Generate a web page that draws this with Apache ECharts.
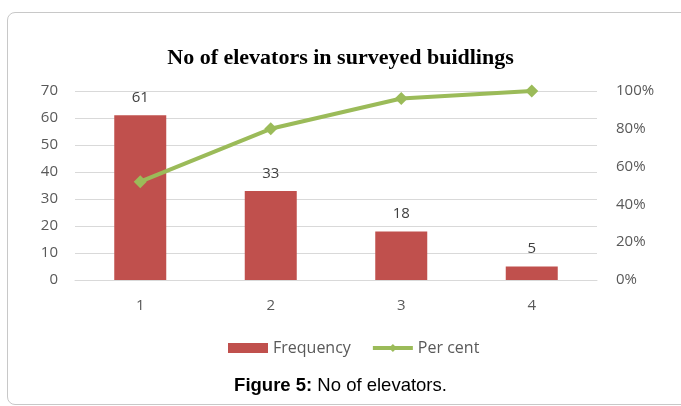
<!DOCTYPE html>
<html>
<head>
<meta charset="utf-8">
<script src="https://cdn.jsdelivr.net/npm/echarts@6/dist/echarts.min.js"></script>
<style>
  html, body { margin: 0; padding: 0; background: #fff; }
  #frame { position: absolute; left: 7px; top: 12px; width: 700px; height: 393px;
           border: 1px solid #c8c8c8; border-radius: 8px; box-sizing: border-box; }
  #id1 { position: absolute; left: 0; top: 0; width: 681px; height: 406px; }
</style>
</head>
<body>
<div id="frame"></div>
<div id="id1"></div>
<script>
var categories = ['1', '2', '3', '4'];
var frequency = [61, 33, 18, 5];
var perCent = [52, 80, 96, 100];

var charts = echarts.init(document.getElementById('id1'));
var option = {
    title: [{
        text: 'No of elevators in surveyed buidlings',
        left: 'center', top: 42,
        textStyle: { fontFamily: 'Liberation Serif', fontSize: 22, fontWeight: 'bold', color: '#000' }
    }, {
        text: '{b|Figure 5:} No of elevators.',
        left: 'center', top: 371,
        textStyle: {
            fontFamily: 'Liberation Sans', fontSize: 18.5, fontWeight: 'normal', color: '#000',
            rich: { b: { fontFamily: 'Liberation Sans', fontSize: 18.5, fontWeight: 'bold', color: '#000' } }
        }
    }],
    legend: {
        top: 335, left: 223,
        itemGap: 20,
        itemWidth: 40, itemHeight: 10,
        textStyle: { fontFamily: 'Open Sans', fontSize: 16, color: '#595959' },
        data: [
            { name: 'Frequency', icon: 'rect', itemStyle: { color: '#C0504D' } },
            { name: 'Per cent', lineStyle: { width: 4, color: '#9BBB59' }, itemStyle: { color: '#9BBB59' } }
        ]
    },
    grid: { left: 75, right: 84, top: 91, bottom: 126 },
    xAxis: {
        type: 'category',
        data: categories,
        axisLine: { lineStyle: { color: '#d9d9d9' } },
        axisTick: { show: false },
        axisLabel: { fontFamily: 'Open Sans', fontSize: 15, color: '#595959', margin: 18 }
    },
    yAxis: [{
        type: 'value', min: 0, max: 70, interval: 10,
        axisLine: { show: false }, axisTick: { show: false },
        splitLine: { lineStyle: { color: '#d9d9d9' } },
        axisLabel: { fontFamily: 'Open Sans', fontSize: 15, color: '#595959', margin: 17 }
    }, {
        type: 'value', min: 0, max: 100, interval: 20,
        axisLine: { show: false }, axisTick: { show: false },
        splitLine: { show: false },
        axisLabel: { fontFamily: 'Open Sans', fontSize: 15, color: '#595959', margin: 19, formatter: '{value}%' }
    }],
    series: [{
        name: 'Frequency',
        type: 'bar',
        data: frequency,
        barWidth: 52,
        itemStyle: { color: '#C0504D' },
        label: { show: true, position: 'top', distance: 10, fontFamily: 'Open Sans', fontSize: 15, color: '#404040' }
    }, {
        name: 'Per cent',
        type: 'line',
        yAxisIndex: 1,
        data: perCent,
        symbol: 'diamond', symbolSize: 13,
        lineStyle: { color: '#9BBB59', width: 4 },
        itemStyle: { color: '#9BBB59' }
    }]
};
charts.setOption(option);
</script>
</body>
</html>
